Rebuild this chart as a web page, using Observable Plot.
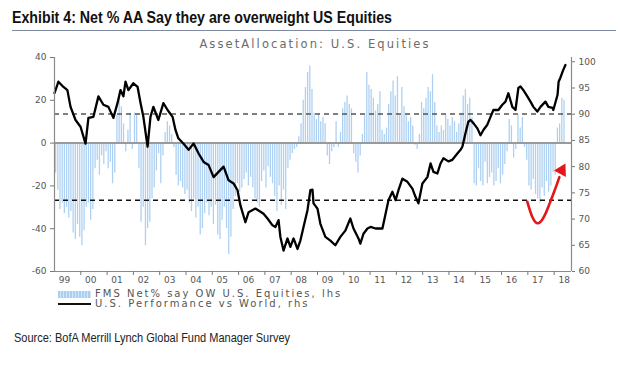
<!DOCTYPE html>
<html><head><meta charset="utf-8">
<script src="https://cdn.jsdelivr.net/npm/d3@7"></script>
<script src="https://cdn.jsdelivr.net/npm/@observablehq/plot@0.6"></script>
<style>
body{margin:0;background:#fff;width:620px;height:365px;position:relative;overflow:hidden;font-family:"DejaVu Sans",sans-serif}
#title{position:absolute;left:12px;top:9px;font:bold 16px "Liberation Sans",Arial,sans-serif;color:#111;white-space:nowrap;transform-origin:0 0}
#rule{position:absolute;left:12px;top:30px;width:604px;height:1px;background:#7d8aa0}
#sub{position:absolute;left:0;width:630px;top:37px;text-align:center;font-size:11.5px;letter-spacing:2.1px;color:#6b6b6b;white-space:nowrap}
#chart{position:absolute;left:0;top:50px}
#legend{position:absolute;left:58px;top:289px;font-size:10px;letter-spacing:2px;color:#555;line-height:10px;white-space:nowrap}
#legend .row{display:flex;align-items:center;height:10px}
#legend .sw{width:33px;height:7px;margin-right:4px;background:repeating-linear-gradient(90deg,#a9cff3 0 2px,#d3e6f9 2px 3px)}
#legend .ln{width:33px;height:2px;margin-right:4px;background:#111}
#source{position:absolute;left:14px;top:331px;font:12px "Liberation Sans",Arial,sans-serif;color:#222;white-space:nowrap;transform-origin:0 0}
</style>
</head><body>
<div id="title">Exhibit 4: Net % AA Say they are overweight US Equities</div>
<div id="rule"></div>
<div id="sub">AssetAllocation: U.S. Equities</div>
<div id="chart"></div>
<div id="legend">
  <div class="row"><div class="sw"></div><span>FMS Net% say OW U.S. Equities, lhs</span></div>
  <div class="row"><div class="ln"></div><span>U.S. Performance vs World, rhs</span></div>
</div>
<div id="source">Source: BofA Merrill Lynch Global Fund Manager Survey</div>
<script>
// FMS net % overweight US equities, monthly from Jan 1999 (lhs)
const fmsStartYear = 1999;
const fmsValues = [
 -14,-22,-31,-28,-33,-30,-35,-32,-42,-45,-38,-44,
 -48,-41,-30,-28,-36,-31,-12,-8,-15,-6,-10,-4,
 -12,-9,-19,-14,13,21,17,9,-4,6,14,-3,
 14,13,-12,-37,-30,-48,-40,-37,-26,-21,-13,-5,
 -19,-6,5,10,8,4,-2,-15,-20,-18,-21,-24,
 -22,-28,-32,-26,-35,-30,-43,-40,-33,-28,-34,-30,
 -38,-29,-43,-45,-36,-30,-40,-52,-44,-31,-25,-19,
 -23,-21,-17,-14,-20,-16,-21,-26,-28,-30,-18,-13,
 -21,-11,-16,-19,-25,-32,-20,-29,-22,-31,-12,-8,
 -5,-3,-2,3,9,20,26,33,36,25,14,11,
 13,10,12,9,-6,-10,-4,-2,10,-2,5,16,
 19,22,18,16,-5,-9,-14,-6,4,13,33,27,
 25,21,15,18,24,6,4,7,18,24,29,22,
 31,13,26,17,13,10,12,8,-1,-3,4,19,
 16,21,26,24,32,19,8,5,8,6,13,11,
 8,12,10,5,9,14,22,25,18,21,12,-19,
 -20,-12,-18,-20,-9,-19,-16,-14,-20,-18,-12,-19,
 -15,-10,-4,11,8,-7,-3,13,7,12,-2,-8,
 -20,-22,-17,-24,-26,-28,-21,-25,-18,-23,-20,-14,
 -15,7,9,21,20
];
// U.S. performance vs World (rhs): decimal-year positions and index values
const perfT = [1999.00,1999.15,1999.34,1999.49,1999.61,1999.80,1999.99,2000.18,2000.29,2000.48,2000.67,2000.86,
 2001.05,2001.24,2001.40,2001.51,2001.62,2001.70,2001.81,2002.00,2002.16,2002.27,2002.38,2002.54,2002.65,2002.76,2002.95,
 2003.14,2003.30,2003.49,2003.60,2003.71,2003.90,2004.10,2004.29,2004.48,2004.67,2004.86,2005.05,2005.24,2005.43,2005.62,2005.81,2005.96,
 2006.07,2006.26,2006.38,2006.64,2006.95,2007.10,2007.29,2007.40,2007.52,2007.59,2007.71,2007.86,2007.97,2008.09,2008.24,2008.35,2008.47,2008.62,2008.73,2008.81,2008.85,
 2009.00,2009.11,2009.30,2009.49,2009.68,2009.87,2010.06,2010.25,2010.37,2010.56,2010.63,2010.75,2010.90,2011.02,2011.21,2011.32,2011.47,2011.59,2011.70,2011.85,2011.97,
 2012.08,2012.23,2012.42,2012.61,2012.73,2012.84,2012.99,2013.18,2013.30,2013.41,2013.56,2013.68,2013.79,2013.98,2014.13,2014.32,2014.44,2014.51,2014.63,2014.74,2014.82,2014.93,
 2015.08,2015.20,2015.31,2015.46,2015.58,2015.69,2015.88,2016.03,2016.15,2016.26,2016.41,2016.53,2016.64,2016.72,2016.83,2016.98,
 2017.10,2017.21,2017.36,2017.48,2017.67,2017.78,2017.94,2017.97,2018.13,2018.17,2018.24,2018.35,2018.43];
const perfR = [94.0,96.2,95.2,94.6,91.4,88.9,87.6,84.4,89.3,89.5,93.4,91.8,
 91.4,89.3,92.2,94.6,93.4,96.2,94.6,95.9,95.2,92.2,89.5,83.8,89.5,91.4,88.9,
 92.1,90.8,89.5,87.0,85.4,84.4,83.2,84.4,82.5,80.9,80.3,78.0,79.0,80.0,77.4,76.8,75.5,
 72.6,69.4,71.3,72.0,71.0,70.1,68.8,68.5,69.8,66.6,64.0,66.3,64.7,66.3,64.3,65.9,68.5,71.7,75.5,75.6,73.0,
 72.0,69.1,66.6,65.9,65.0,66.6,67.8,70.1,68.2,66.3,65.3,67.2,68.2,68.5,68.2,68.2,68.2,71.0,73.6,75.2,73.6,
 75.5,77.7,77.1,75.8,74.2,73.0,76.8,78.0,80.6,79.0,78.7,80.6,81.6,81.0,81.3,82.5,83.2,83.8,86.4,88.6,88.9,88.3,
 87.3,86.0,87.0,88.0,89.5,90.8,90.8,91.8,92.4,94.0,91.4,90.8,95.0,95.3,94.6,93.4,
 92.4,91.4,90.5,91.4,92.4,91.4,91.2,90.8,93.7,96.2,97.0,98.5,99.4];
// +/- 1 std dev reference levels (lhs)
const bandLevels = [13.6, -26.7];
// axis ticks
const leftTicks = [-60,-40,-20,0,20,40];
const rightTicks = [60,65,70,75,80,85,90,95,100];
const yearLabels = ["99","00","01","02","03","04","05","06","07","08","09","10","11","12","13","14","15","16","17","18"];
// red annotation curve (decimal year, rhs value)
const arrowT = [2016.98,2017.18,2017.40,2017.62,2017.80,2018.00,2018.20];
const arrowR = [73.3,70.3,69.2,70.5,72.6,75.2,78.0];
const arrowHead = {t:2018.29, r:79.3};

const xEnd = 2018.66;
const toLeft = r => -60 + (r - 60) * 2.45;
const fromLeft = l => 60 + (l + 60) / 2.45;

const fms = fmsValues.map((v,i) => ({t: fmsStartYear + i/12 + 1/24, v}));
const perf = perfT.map((t,i) => ({t, r: perfR[i]}));
const arrowPts = arrowT.map((t,i) => ({t, r: arrowR[i]}));
const yearStarts = yearLabels.map((s,i) => fmsStartYear + i);
const font = "DejaVu Sans";

const chart = Plot.plot({
  width: 620, height: 239,
  marginLeft: 54, marginRight: 620-571, marginTop: 7, marginBottom: 18,
  style: {fontFamily: font, background: "transparent"},
  x: {domain: [fmsStartYear, xEnd], axis: null},
  y: {domain: [-60, 40], axis: null},
  marks: [
    Plot.ruleX(fms, {x: "t", y1: 0, y2: "v", stroke: "#aed1f3", strokeWidth: 1.3}),
    Plot.ruleY([0], {stroke: "#9a9a9a", strokeWidth: 2}),
    Plot.ruleY([bandLevels[0]], {stroke: "#555", strokeWidth: 1.6, strokeDasharray: "5,4"}),
    Plot.ruleY([bandLevels[1]], {stroke: "#111", strokeWidth: 1.6, strokeDasharray: "5,4"}),
    Plot.line(perf, {x: "t", y: d => toLeft(d.r), stroke: "#000", strokeWidth: 2.3, strokeLinejoin: "round"}),
    Plot.line(arrowPts, {x: "t", y: d => toLeft(d.r), curve: "natural", stroke: "#e3161b", strokeWidth: 2.6}),
    Plot.dot([arrowHead], {x: "t", y: d => toLeft(d.r), symbol: "triangle", rotate: 28, r: 5, fill: "#e3161b", stroke: "none"}),
    Plot.ruleX([fmsStartYear, xEnd], {y1: -60, y2: 40, stroke: "#8a8a8a", strokeWidth: 1.2}),
    Plot.ruleY([-60], {stroke: "#8a8a8a", strokeWidth: 1.2}),
    Plot.axisY(leftTicks, {anchor: "left", label: null, tickSize: 4, tickPadding: 4, color: "#777", fill: "#555", fontSize: 9, tickFormat: d => String(d)}),
    Plot.axisY(rightTicks.map(toLeft), {anchor: "right", label: null, tickSize: 3, tickPadding: 4, color: "#777", fill: "#555", fontSize: 9, tickFormat: d => String(Math.round(fromLeft(d)))}),
    Plot.axisX(yearStarts.slice(1), {anchor: "bottom", label: null, tickSize: 4, color: "#777", tickFormat: () => ""}),
    Plot.axisX(yearStarts.map(y => y + 0.38), {anchor: "bottom", label: null, tickSize: 0, tickPadding: 5, fill: "#555", fontSize: 9, tickFormat: (d) => yearLabels[Math.round(d - 0.38) - fmsStartYear]})
  ]
});
document.getElementById("chart").appendChild(chart);

// condense narrow-font texts to the reference widths
function fit(id, w) {
  const el = document.getElementById(id);
  const cur = el.getBoundingClientRect().width;
  if (cur > 0) el.style.transform = `scaleX(${w / cur})`;
}
fit("title", 380);
fit("source", 276);
</script>
</body></html>
